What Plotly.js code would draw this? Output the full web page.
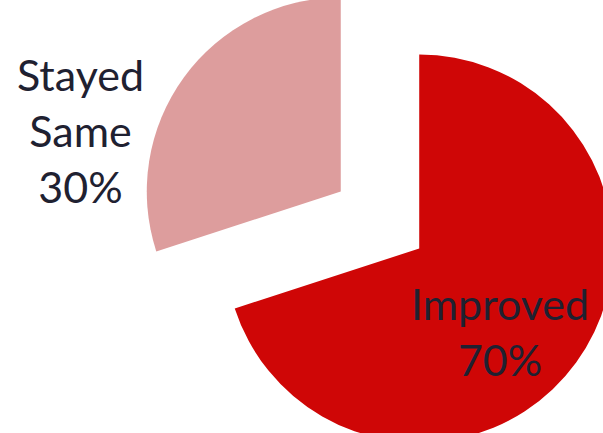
<!DOCTYPE html>
<html>
<head>
<meta charset="utf-8">
<script src="https://cdn.plot.ly/plotly-3.0.1.min.js"></script>
<style>
html, body { margin: 0; padding: 0; width: 603px; height: 433px; overflow: hidden; background: #ffffff; }
#chart { position: absolute; left: 0px; top: -40px; width: 660px; height: 520px; }
</style>
</head>
<body>
<div id="chart"></div>
<script>
var categories = ["Improved", "Stayed Same"];
var values = [70, 30];
var sliceColors = ["#cf0606", "#dd9d9d"];

var total = values.reduce(function (a, b) { return a + b; }, 0);
var labelText = categories.map(function (c, i) {
  return c.split(" ").join("<br>") + "<br>" + Math.round(values[i] / total * 100) + "%";
});

var trace = {
  type: "pie",
  labels: categories,
  values: values,
  sort: false,
  direction: "clockwise",
  rotation: 0,
  pull: [0.25, 0.25],
  marker: { colors: sliceColors, line: { width: 0 } },
  textinfo: "none",
  hoverinfo: "label+percent",
  showlegend: false,
  domain: { x: [0.2083, 0.9432], y: [0.0337, 0.9663] }
};

var labelPos = [
  { x: 0.7576, y: 0.2865 },
  { x: 0.1227, y: 0.6712 }
];

var annotations = labelText.map(function (t, i) {
  return {
    text: t,
    xref: "paper", yref: "paper",
    x: labelPos[i].x, y: labelPos[i].y,
    xanchor: "center", yanchor: "middle",
    showarrow: false,
    align: "center",
    font: { family: "Lato, 'Open Sans', sans-serif", size: 43, color: "#1f2131" }
  };
});

var layout = {
  width: 660, height: 520,
  margin: { l: 0, r: 0, t: 0, b: 0, pad: 0 },
  paper_bgcolor: "#ffffff",
  plot_bgcolor: "#ffffff",
  annotations: annotations
};

Plotly.newPlot("chart", [trace], layout, { displayModeBar: false, staticPlot: true });
</script>
</body>
</html>
